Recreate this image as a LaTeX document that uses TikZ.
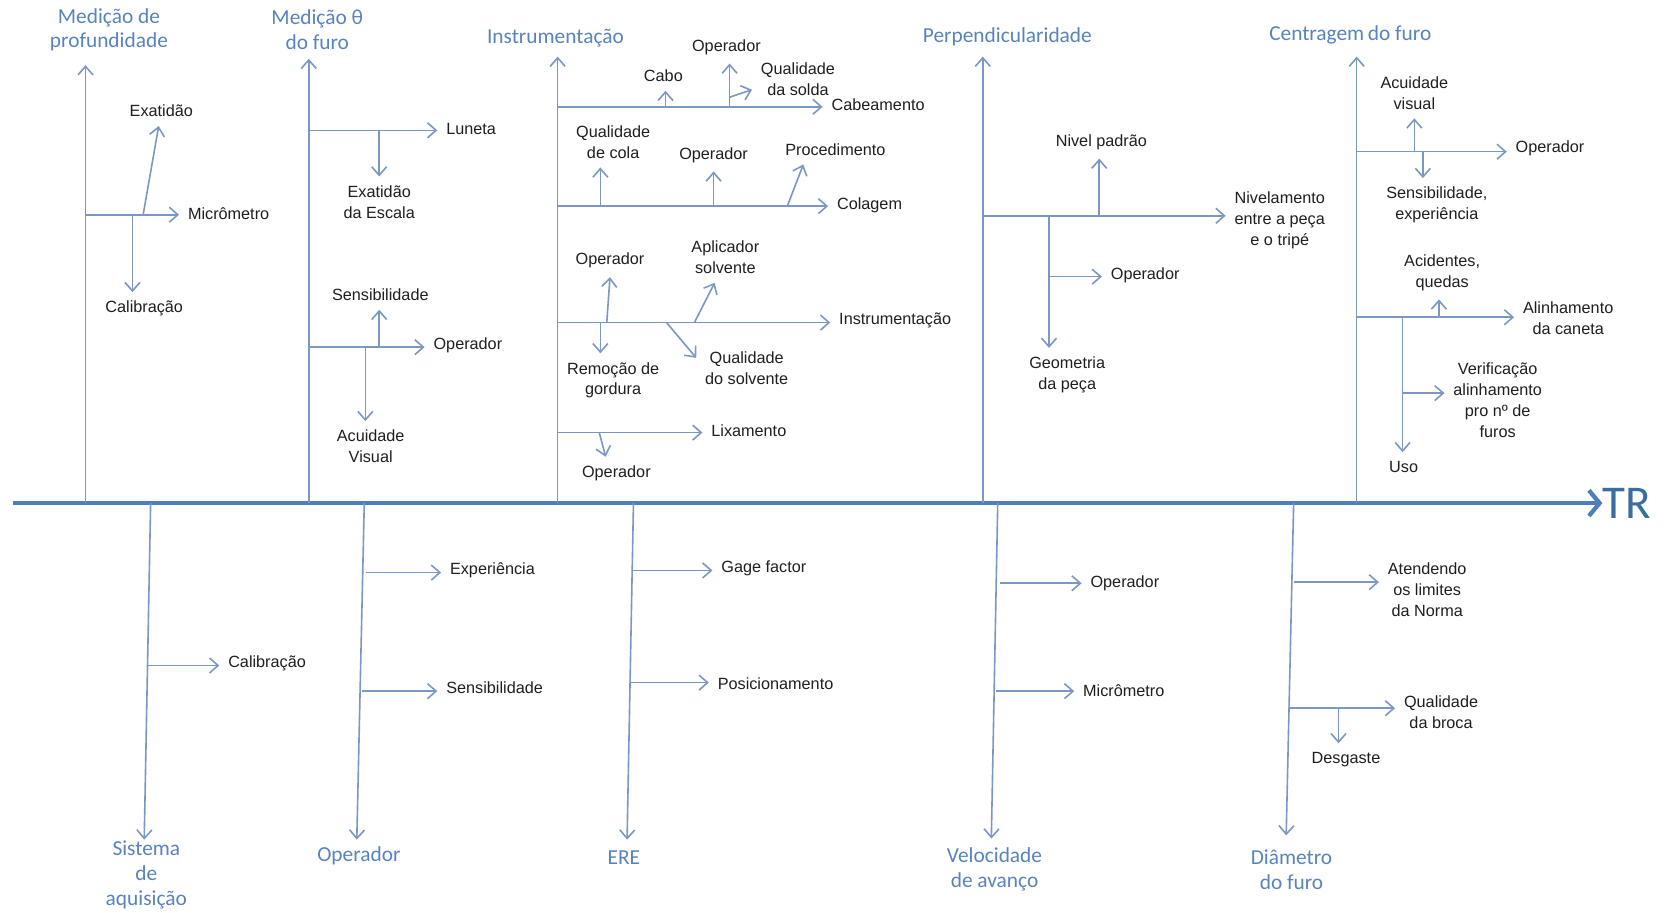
\documentclass[tikz,border=0pt]{standalone}
\usepackage{fontspec}
\setmainfont{Liberation Sans}
\newfontfamily\catfont{Carlito}
\usetikzlibrary{arrows.meta}

\definecolor{bonecol}{HTML}{7B98C4}
\definecolor{spinecol}{HTML}{4F7FBA}
\definecolor{catcol}{HTML}{5884BE}
\definecolor{trcol}{HTML}{3A6E9E}

\begin{document}
\begin{tikzpicture}[
  x=0.5pt, y=-0.5pt,
  every node/.style={font=\fontsize{7.6}{9.8}\selectfont},
  lbl/.style={inner sep=4pt, align=center, text=black!88},
  cat/.style={font=\catfont\fontsize{10}{11.5}\selectfont,
              text=catcol, align=center, inner sep=1pt},
  bone/.style={-{Straight Barb[length=4pt,width=7pt]},
               draw=bonecol, line width=0.75pt},
  twig/.style={bone},
  spine/.style={-{Straight Barb[length=5pt,width=12pt]},
                draw=spinecol, line width=2pt},
]

%% ── Frame ─────────────────────────────────────────────
\path[use as bounding box, fill=white] (0,0) rectangle (1568,854);

%% ── Bone positions ────────────────────────────────────
\def\sy{471}  % spine y
\def\ua{80}   % upper bones x
\def\ub{289}
\def\uc{522}
\def\ud{920}
\def\ue{1270}

%% ── Spine ─────────────────────────────────────────────
\coordinate (tail) at (12,\sy);
\node[font=\catfont\fontsize{22}{22}\selectfont, text=trcol,
      anchor=west, inner sep=0pt] (tr) at (1500,\sy) {TR};
\draw[spine] (tail) -- (tr);

%% ── Upper categories ──────────────────────────────────
\node[cat] (medprof)  at (102,28)  {Medição de\\profundidade};
\node[cat] (medtheta) at (297,28)  {Medição θ\\do furo};
\node[cat] (instr)    at (520,36)  {Instrumentação};
\node[cat] (perp)     at (943,34)  {Perpendicularidade};
\node[cat] (centr)    at (1264,33) {Centragem\,do furo};

\coordinate (ua0) at (\ua,\sy); \coordinate (ua1) at (\ua,61);
\coordinate (ub0) at (\ub,\sy); \coordinate (ub1) at (\ub,55);
\coordinate (uc0) at (\uc,\sy); \coordinate (uc1) at (\uc,53);
\coordinate (ud0) at (\ud,\sy); \coordinate (ud1) at (\ud,53);
\coordinate (ue0) at (\ue,\sy); \coordinate (ue1) at (\ue,53);
\draw[bone] (ua0) -- (ua1);
\draw[bone] (ub0) -- (ub1);
\draw[bone] (uc0) -- (uc1);
\draw[bone] (ud0) -- (ud1);
\draw[bone] (ue0) -- (ue1);

%% ── Lower categories ──────────────────────────────────
\node[cat] (sisaq) at (137,819)  {Sistema\\de\\aquisição};
\node[cat] (oper)  at (336,801)  {Operador};
\node[cat] (ere)   at (584,803)  {ERE};
\node[cat] (veloc) at (931,814)  {Velocidade\\de avanço};
\node[cat] (diam)  at (1209,814) {Diâmetro\\do furo};

\coordinate (la0) at (141,\sy);  \coordinate (la1) at (135,786);
\coordinate (lb0) at (341,\sy);  \coordinate (lb1) at (334,786);
\coordinate (lc0) at (593,\sy);  \coordinate (lc1) at (587,786);
\coordinate (ld0) at (934,\sy);  \coordinate (ld1) at (928,785);
\coordinate (le0) at (1211,\sy); \coordinate (le1) at (1204,782);
\draw[bone] (la0) -- (la1);
\draw[bone] (lb0) -- (lb1);
\draw[bone] (lc0) -- (lc1);
\draw[bone] (ld0) -- (ld1);
\draw[bone] (le0) -- (le1);

%% ── Medição de profundidade ───────────────────────────
\coordinate (pa) at (\ua,201);
\coordinate (pb) at (134,201);
\coordinate (pc) at (124,201);
\node[lbl] (pmicro) at (214,200) {Micrômetro};
\node[lbl] (pexat)  at (151,104) {Exatidão};
\node[lbl] (pcalib) at (135,289) {Calibração};
\draw[twig] (pa) -- (pmicro.west |- pa);
\draw[twig] (pb) -- (pexat);
\draw[twig] (pc) -- (pcalib.north -| pc);

%% ── Medição θ do furo ─────────────────────────────────
\coordinate (ta) at (\ub,122);
\coordinate (tb) at (355,122);
\coordinate (tc) at (\ub,325);
\coordinate (td) at (355,325);
\coordinate (te) at (342,325);
\node[lbl] (tlun)  at (441,121) {Luneta};
\node[lbl] (tesc)  at (355,189) {Exatidão\\da Escala};
\node[lbl] (toper) at (438,323) {Operador};
\node[lbl] (tsens) at (356,276) {Sensibilidade};
\node[lbl] (tacu)  at (347,418) {Acuidade\\Visual};
\draw[twig] (ta) -- (tlun.west |- ta);
\draw[twig] (tb) -- (tesc.north -| tb);
\draw[twig] (tc) -- (toper.west |- tc);
\draw[twig] (td) -- (tsens.south -| td);
\draw[twig] (te) -- (tacu.north -| te);

%% ── Instrumentação ────────────────────────────────────
% Cabeamento
\coordinate (ia) at (\uc,100);
\coordinate (ib) at (623,100);
\coordinate (ic) at (683,100);
\coordinate (id) at (683,91);
\node[lbl] (icab)   at (822,98)  {Cabeamento};
\node[lbl] (icabo)  at (621,71)  {Cabo};
\node[lbl] (iopa)   at (680,44)  {Operador};
\node[lbl] (isolda) at (747,74)  {Qualidade\\da solda};
\draw[twig] (ia) -- (icab.west |- ia);
\draw[twig] (ib) -- (icabo.south -| ib);
\draw[twig] (ic) -- (iopa.south -| ic);
\draw[twig] (id) -- ([yshift=-5pt]isolda.west);
% Colagem
\coordinate (ie) at (\uc,193);
\coordinate (if) at (562,193);
\coordinate (ig) at (668,193);
\coordinate (ih) at (737,193);
\node[lbl] (icol)  at (814,192) {Colagem};
\node[lbl] (icola) at (574,133) {Qualidade\\de cola};
\node[lbl] (iopb)  at (668,145) {Operador};
\node[lbl] (iproc) at (782,140) {Procedimento};
\draw[twig] (ie) -- (icol.west |- ie);
\draw[twig] (if) -- (icola.south -| if);
\draw[twig] (ig) -- (iopb.south -| ig);
\draw[twig] (ih) -- ([xshift=-15pt]iproc.south);
% Instrumentação
\coordinate (ii) at (\uc,302);
\coordinate (ij) at (568,302);
\coordinate (ik) at (562,302);
\coordinate (il) at (650,302);
\coordinate (im) at (624,302);
\node[lbl] (iins)  at (838,300) {Instrumentação};
\node[lbl] (iopc)  at (571,244) {Operador};
\node[lbl] (irem)  at (574,356) {Remoção de\\gordura};
\node[lbl] (iapl)  at (679,241) {Aplicador\\solvente};
\node[lbl] (iqsol) at (699,345) {Qualidade\\do solvente};
\draw[twig] (ii) -- (iins.west |- ii);
\draw[twig] (ij) -- (iopc.south);
\draw[twig] (ik) -- (irem.north -| ik);
\draw[twig] (il) -- ([xshift=-5pt]iapl.south);
\draw[twig] (im) -- ([yshift=5pt]iqsol.west);
% Lixamento
\coordinate (in) at (\uc,405);
\coordinate (io) at (561,405);
\node[lbl] (ilix) at (701,403) {Lixamento};
\node[lbl] (iopd) at (577,443) {Operador};
\draw[twig] (in) -- (ilix.west |- in);
\draw[twig] (io) -- ([xshift=-5pt]iopd.north);

%% ── Perpendicularidade ────────────────────────────────
\coordinate (ra) at (\ud,202);
\coordinate (rb) at (1029,202);
\coordinate (rc) at (982,202);
\coordinate (rd) at (982,259);
\node[lbl] (rniv)  at (1198,206) {Nivelamento\\entre a peça\\e o tripé};
\node[lbl] (rpad)  at (1031,133) {Nivel padrão};
\node[lbl] (rgeo)  at (999,351)  {Geometria\\da peça};
\node[lbl] (roper) at (1072,258) {Operador};
\draw[twig] (ra) -- (rniv.west |- ra);
\draw[twig] (rb) -- (rpad.south -| rb);
\draw[twig] (rc) -- (rgeo.north -| rc);
\draw[twig] (rd) -- (roper.west |- rd);

%% ── Centragem do furo ─────────────────────────────────
\coordinate (ca) at (\ue,142);
\coordinate (cb) at (1324,142);
\coordinate (cc) at (1332,142);
\coordinate (cd) at (\ue,297);
\coordinate (ce) at (1347,297);
\coordinate (cf) at (1313,297);
\coordinate (cg) at (1313,368);
\node[lbl] (coper) at (1451,139) {Operador};
\node[lbl] (cacu)  at (1324,87)  {Acuidade\\visual};
\node[lbl] (csens) at (1345,192) {Sensibilidade,\\experiência};
\node[lbl] (caln)  at (1468,298) {Alinhamento\\da caneta};
\node[lbl] (cacid) at (1350,255) {Acidentes,\\quedas};
\node[lbl] (cuso)  at (1314,437) {Uso};
\node[lbl] (cver)  at (1402,375) {Verificação\\alinhamento\\pro nº de\\furos};
\draw[twig] (ca) -- (coper.west |- ca);
\draw[twig] (cb) -- (cacu.south -| cb);
\draw[twig] (cc) -- (csens.north -| cc);
\draw[twig] (cd) -- (caln.west |- cd);
\draw[twig] (ce) -- (cacid.south -| ce);
\draw[twig] (cf) -- (cuso.north -| cf);
\draw[twig] (cg) -- (cver.west |- cg);

%% ── Sistema de aquisição ──────────────────────────────
\coordinate (sa) at (138,623);
\node[lbl] (scalib) at (250,621) {Calibração};
\draw[twig] (sa) -- (scalib.west |- sa);

%% ── Operador ──────────────────────────────────────────
\coordinate (oa) at (343,536);
\coordinate (ob) at (339,647);
\node[lbl] (oexp)  at (461,534) {Experiência};
\node[lbl] (osens) at (463,644) {Sensibilidade};
\draw[twig] (oa) -- (oexp.west |- oa);
\draw[twig] (ob) -- (osens.west |- ob);

%% ── ERE ───────────────────────────────────────────────
\coordinate (ea) at (592,534);
\coordinate (eb) at (590,639);
\node[lbl] (egage) at (715,532) {Gage factor};
\node[lbl] (epos)  at (726,640) {Posicionamento};
\draw[twig] (ea) -- (egage.west |- ea);
\draw[twig] (eb) -- (epos.west |- eb);

%% ── Velocidade de avanço ──────────────────────────────
\coordinate (va) at (936,546);
\coordinate (vb) at (932,647);
\node[lbl] (voper)  at (1053,546) {Operador};
\node[lbl] (vmicro) at (1052,647) {Micrômetro};
\draw[twig] (va) -- (voper.west |- va);
\draw[twig] (vb) -- (vmicro.west |- vb);

%% ── Diâmetro do furo ──────────────────────────────────
\coordinate (da) at (1211,545);
\coordinate (db) at (1208,663);
\coordinate (dc) at (1253,663);
\node[lbl] (dnorma) at (1336,552) {Atendendo\\os limites\\da Norma};
\node[lbl] (dbroca) at (1349,667) {Qualidade\\da broca};
\node[lbl] (ddesg)  at (1260,711) {Desgaste};
\draw[twig] (da) -- (dnorma.west |- da);
\draw[twig] (db) -- (dbroca.west |- db);
\draw[twig] (dc) -- (ddesg.north -| dc);

\end{tikzpicture}
\end{document}
